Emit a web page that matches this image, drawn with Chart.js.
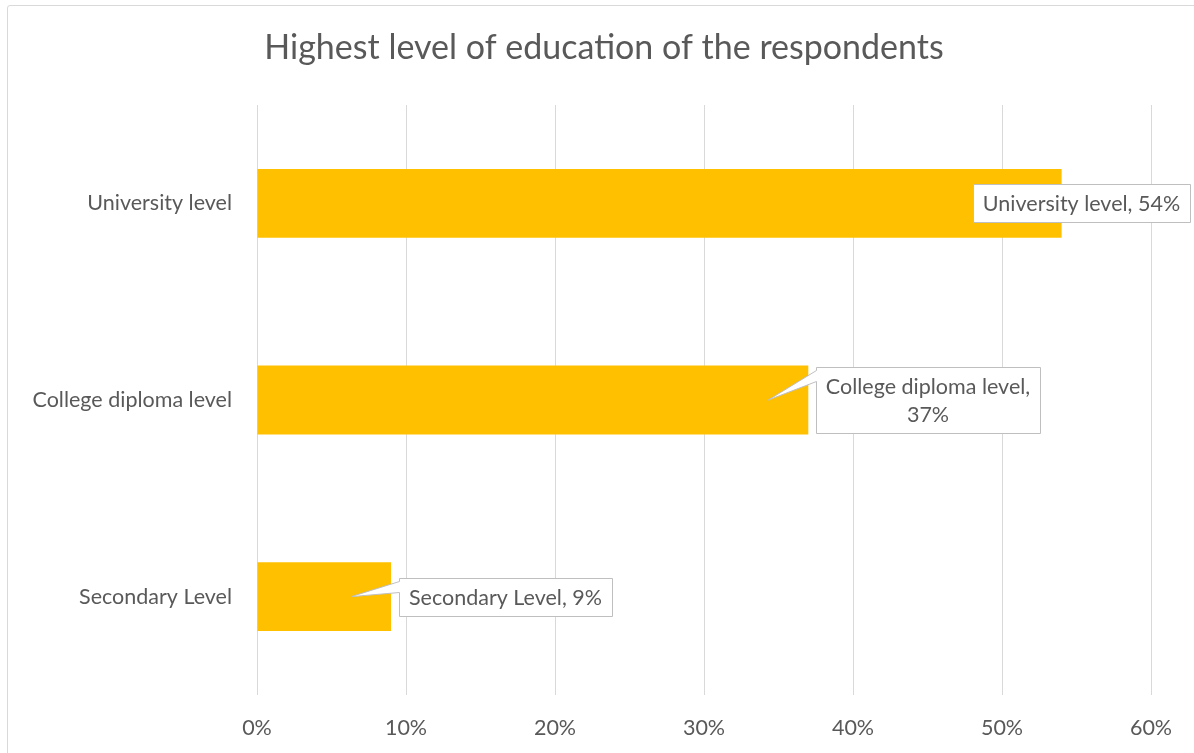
<!DOCTYPE html>
<html>
<head>
<meta charset="utf-8">
<title>Highest level of education of the respondents</title>
<script src="https://cdn.jsdelivr.net/npm/chart.js@4.4.0/dist/chart.umd.min.js"></script>
<style>
    html, body { margin: 0; padding: 0; background: #ffffff; overflow: hidden; }
    #frame {
        position: absolute; left: 7px; top: 5px; width: 1200px; height: 800px;
        border: 1px solid #d9d9d9; border-radius: 3px;
    }
    #wrap { position: absolute; left: 0; top: 0; width: 1194px; height: 753px; }
</style>
</head>
<body>
<div id="frame"></div>
<div id="wrap"><canvas id="eduChart"></canvas></div>
<script>
// 資料
const categories = ['University level', 'College diploma level', 'Secondary Level'];
const shares = [54, 37, 9];
const tickValues = [0, 10, 20, 30, 40, 50, 60];
const chartTitle = 'Highest level of education of the respondents';

const FONT = "Lato, 'Open Sans', sans-serif";
const TEXT_COLOR = '#595959';
const GRID_COLOR = '#d9d9d9';
const BAR_COLOR = '#ffc000';

/**
 * 標題 (置於整張圖的中央，Excel 的位置)
 */
const titlePlugin = {
    id: 'excelTitle',
    afterDraw(chart) {
        const ctx = chart.ctx;
        ctx.save();
        ctx.font = '34px ' + FONT;
        ctx.fillStyle = TEXT_COLOR;
        ctx.textAlign = 'center';
        ctx.textBaseline = 'middle';
        ctx.fillText(chartTitle, 604, 48);
        ctx.restore();
    }
};

/**
 * Excel 風格的資料標籤 (白底灰框 + 指向長條的尖角)
 */
const calloutPlugin = {
    id: 'callouts',
    afterDatasetsDraw(chart) {
        const ctx = chart.ctx;
        const meta = chart.getDatasetMeta(0);
        const fontSize = 21.5;
        const lineH = 28;
        const padX = 10, padY = 5;
        const maxW = 225;

        ctx.save();
        ctx.font = fontSize + 'px ' + FONT;

        meta.data.forEach((bar, i) => {
            const full = categories[i] + ', ' + shares[i] + '%';
            let lines = [full];
            if (ctx.measureText(full).width > maxW) {
                lines = [categories[i] + ',', shares[i] + '%'];
            }
            const textW = Math.max(...lines.map(l => ctx.measureText(l).width));
            const w = Math.round(textW + padX * 2);
            const h = Math.round(lines.length * lineH + padY * 2);

            let x = Math.round(bar.x + 8);
            let shifted = false;
            if (x + w > chart.width - 4) {
                x = chart.width - 4 - w;
                shifted = true;
            }
            const top = Math.round(bar.y - h / 2);
            const bottom = top + h;

            ctx.beginPath();
            ctx.moveTo(x + 0.5, top + 0.5);
            ctx.lineTo(x + w + 0.5, top + 0.5);
            ctx.lineTo(x + w + 0.5, bottom + 0.5);
            ctx.lineTo(x + 0.5, bottom + 0.5);
            if (!shifted) {
                ctx.lineTo(x + 0.5, top + 14.5);
                ctx.lineTo(bar.x - 40, bar.y);
                ctx.lineTo(x + 0.5, top + 3.5);
            }
            ctx.closePath();
            ctx.fillStyle = '#ffffff';
            ctx.fill();
            ctx.strokeStyle = '#bfbfbf';
            ctx.lineWidth = 1;
            ctx.stroke();

            ctx.fillStyle = TEXT_COLOR;
            ctx.textAlign = 'center';
            ctx.textBaseline = 'middle';
            lines.forEach((l, k) => {
                ctx.fillText(l, x + w / 2, top + padY + lineH * k + lineH / 2 + 1);
            });
        });
        ctx.restore();
    }
};

const chart = new Chart(document.getElementById('eduChart'), {
    type: 'bar',
    data: {
        labels: categories,
        datasets: [{
            data: shares,
            backgroundColor: BAR_COLOR,
            borderWidth: 0,
            categoryPercentage: 1,
            barPercentage: 0.35
        }]
    },
    options: {
        indexAxis: 'y',
        responsive: true,
        maintainAspectRatio: false,
        animation: false,
        layout: { padding: { left: 8, right: 43, top: 105, bottom: 0 } },
        scales: {
            x: {
                min: tickValues[0],
                max: tickValues[tickValues.length - 1],
                afterBuildTicks: scale => { scale.ticks = tickValues.map(v => ({ value: v })); },
                afterFit: scale => { scale.height = 58; },
                border: { display: false },
                grid: { color: GRID_COLOR, lineWidth: 1, drawTicks: false },
                ticks: {
                    padding: 20,
                    color: TEXT_COLOR,
                    font: { family: FONT, size: 21.5 },
                    callback: v => v + '%'
                }
            },
            y: {
                afterFit: scale => { scale.width = 249; },
                border: { display: false },
                grid: { display: false, drawTicks: false },
                ticks: {
                    padding: 25,
                    color: TEXT_COLOR,
                    font: { family: FONT, size: 21.5 }
                }
            }
        },
        plugins: {
            legend: { display: false },
            tooltip: { enabled: false },
            title: { display: false }
        }
    },
    plugins: [calloutPlugin, titlePlugin]
});
</script>
</body>
</html>
